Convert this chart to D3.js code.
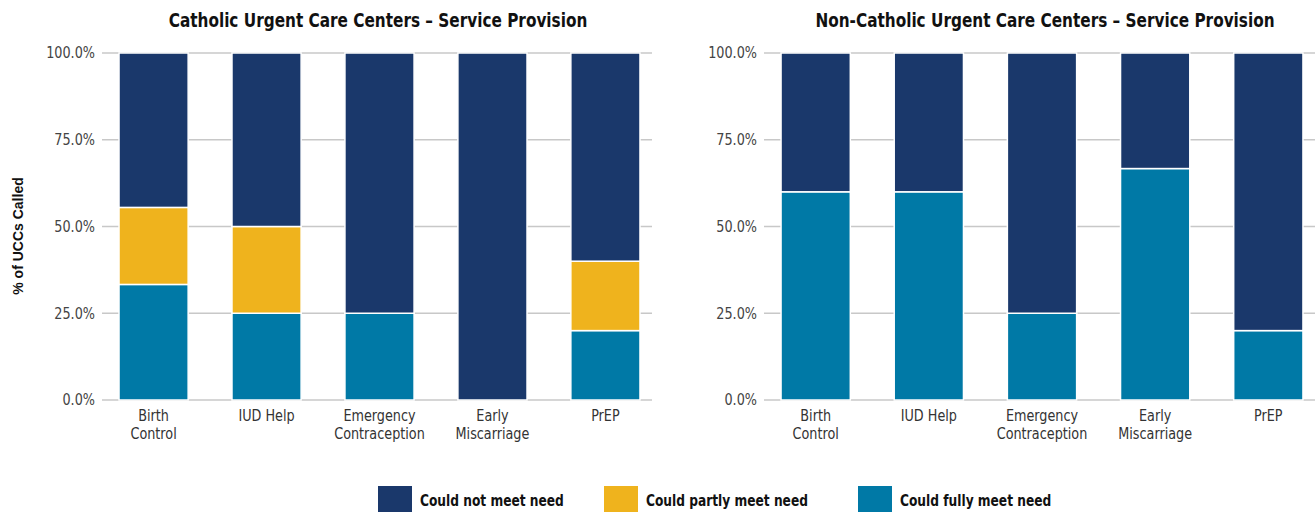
<!DOCTYPE html>
<html>
<head>
<meta charset="utf-8">
<script src="https://cdn.jsdelivr.net/npm/d3@7"></script>
<style>
  body { margin: 0; background: #fff; }
  svg text { font-family: "Liberation Sans Narrow", "DejaVu Sans Condensed", "Roboto", sans-serif; }
</style>
</head>
<body>
<div id="chart"></div>
<script>
const fig_width = 1315
const fig_height = 512

// categories and series, values in percent of UCCs called
const services = ['Birth Control', 'IUD Help', 'Emergency Contraception', 'Early Miscarriage', 'PrEP']
const service_lines = [['Birth', 'Control'], ['IUD Help'], ['Emergency', 'Contraception'], ['Early', 'Miscarriage'], ['PrEP']]
const series_names = ['Could not meet need', 'Could partly meet need', 'Could fully meet need']
const series_keys = ['not', 'partly', 'fully']
const series_colours = ['#1a386b', '#efb31d', '#0079a6']

const catholic_fully = [33.3, 25, 25, 0, 20]
const catholic_partly = [22.2, 25, 0, 0, 20]
const catholic_not = [44.5, 50, 75, 100, 60]

const noncatholic_fully = [60, 60, 25, 66.7, 20]
const noncatholic_partly = [0, 0, 0, 0, 0]
const noncatholic_not = [40, 40, 75, 33.3, 80]

const y_ticks = [0, 25, 50, 75, 100]

// x0/x1: gridline extent, b0/b1: band range for the bars
const panels = [
    {title: 'Catholic Urgent Care Centers \u2013 Service Provision', x0: 102, x1: 652, b0: 104, b1: 655, tx: 378,
     fully: catholic_fully, partly: catholic_partly, not: catholic_not},
    {title: 'Non-Catholic Urgent Care Centers \u2013 Service Provision', x0: 764, x1: 1315, b0: 766, b1: 1318, tx: 1045,
     fully: noncatholic_fully, partly: noncatholic_partly, not: noncatholic_not}
]

// the reference uses a condensed face, squeeze text horizontally
const squeeze = 0.85

let fig = d3.select('#chart')
    .append('svg')
    .attr('width', fig_width)
    .attr('height', fig_height)

let yScale = d3.scaleLinear().domain([0, 100]).range([400, 53])
let colourScale = d3.scaleOrdinal().domain(series_keys).range(series_colours)

// stack order from bottom: fully, partly, not
let stacker = d3.stack().keys(['fully', 'partly', 'not'])

panels.forEach(panel => {
    let g = fig.append('g')

    let xScale = d3.scaleBand()
        .domain(services)
        .range([panel.b0, panel.b1])
        .paddingInner(0.388)
        .paddingOuter(0.133)

    // gridlines
    g.selectAll('line.grid')
        .data(y_ticks)
        .join('line')
        .attr('class', 'grid')
        .attr('x1', panel.x0)
        .attr('x2', panel.x1)
        .attr('y1', d => yScale(d))
        .attr('y2', d => yScale(d))
        .style('stroke', '#c8c8c8')
        .style('stroke-width', 1.5)

    // y tick labels
    g.selectAll('text.ytick')
        .data(y_ticks)
        .join('text')
        .attr('class', 'ytick')
        .attr('transform', d => `translate(${panel.x0 - 7},${yScale(d)}) scale(0.95,1)`)
        .attr('dy', '0.35em')
        .attr('text-anchor', 'end')
        .style('font-size', '15px')
        .style('fill', '#444')
        .text(d => d3.format('.1f')(d) + '%')

    let rows = services.map((s, i) => ({service: s, fully: panel.fully[i], partly: panel.partly[i], not: panel.not[i]}))
    let stacked = stacker(rows)

    g.selectAll('g.layer')
        .data(stacked)
        .join('g')
        .attr('class', 'layer')
        .attr('fill', d => colourScale(d.key))
        .selectAll('rect')
        .data(d => d.filter(p => p[1] - p[0] > 0))
        .join('rect')
        .attr('x', d => xScale(d.data.service))
        .attr('width', xScale.bandwidth())
        .attr('y', d => yScale(d[1]))
        .attr('height', d => yScale(d[0]) - yScale(d[1]))
        .style('stroke', '#fff')
        .style('stroke-width', 1.5)

    // x labels
    g.selectAll('text.xlab')
        .data(services)
        .join('text')
        .attr('class', 'xlab')
        .attr('transform', d => `translate(${xScale(d) + xScale.bandwidth() / 2},421) scale(0.95,1)`)
        .attr('text-anchor', 'middle')
        .style('font-size', '15px')
        .style('fill', '#333')
        .selectAll('tspan')
        .data((d, i) => service_lines[i])
        .join('tspan')
        .attr('x', 0)
        .attr('dy', (d, i) => i === 0 ? 0 : 18)
        .text(d => d)

    // title
    g.append('text')
        .attr('transform', `translate(${panel.tx},27) scale(${squeeze},1)`)
        .attr('text-anchor', 'middle')
        .style('font-size', '20px')
        .style('font-weight', 'bold')
        .style('fill', '#111')
        .text(panel.title)
})

// y axis title
fig.append('text')
    .attr('transform', 'translate(23,236) rotate(-90)')
    .attr('text-anchor', 'middle')
    .style('font-family', '"Liberation Sans", Arial, sans-serif')
    .style('font-size', '14px')
    .style('font-weight', 'bold')
    .style('fill', '#111')
    .text('% of UCCs Called')

// legend
const legend_x = [378, 604, 858]
let legend = fig.selectAll('g.legend')
    .data(series_keys)
    .join('g')
    .attr('class', 'legend')
    .attr('transform', (d, i) => `translate(${legend_x[i]},486)`)

legend.append('rect')
    .attr('width', 34)
    .attr('height', 30)
    .attr('fill', d => colourScale(d))

legend.append('text')
    .attr('transform', `translate(42,14) scale(${squeeze},1)`)
    .attr('dy', '0.35em')
    .style('font-size', '16px')
    .style('font-weight', 'bold')
    .style('fill', '#111')
    .text((d, i) => series_names[i])
</script>
</body>
</html>
